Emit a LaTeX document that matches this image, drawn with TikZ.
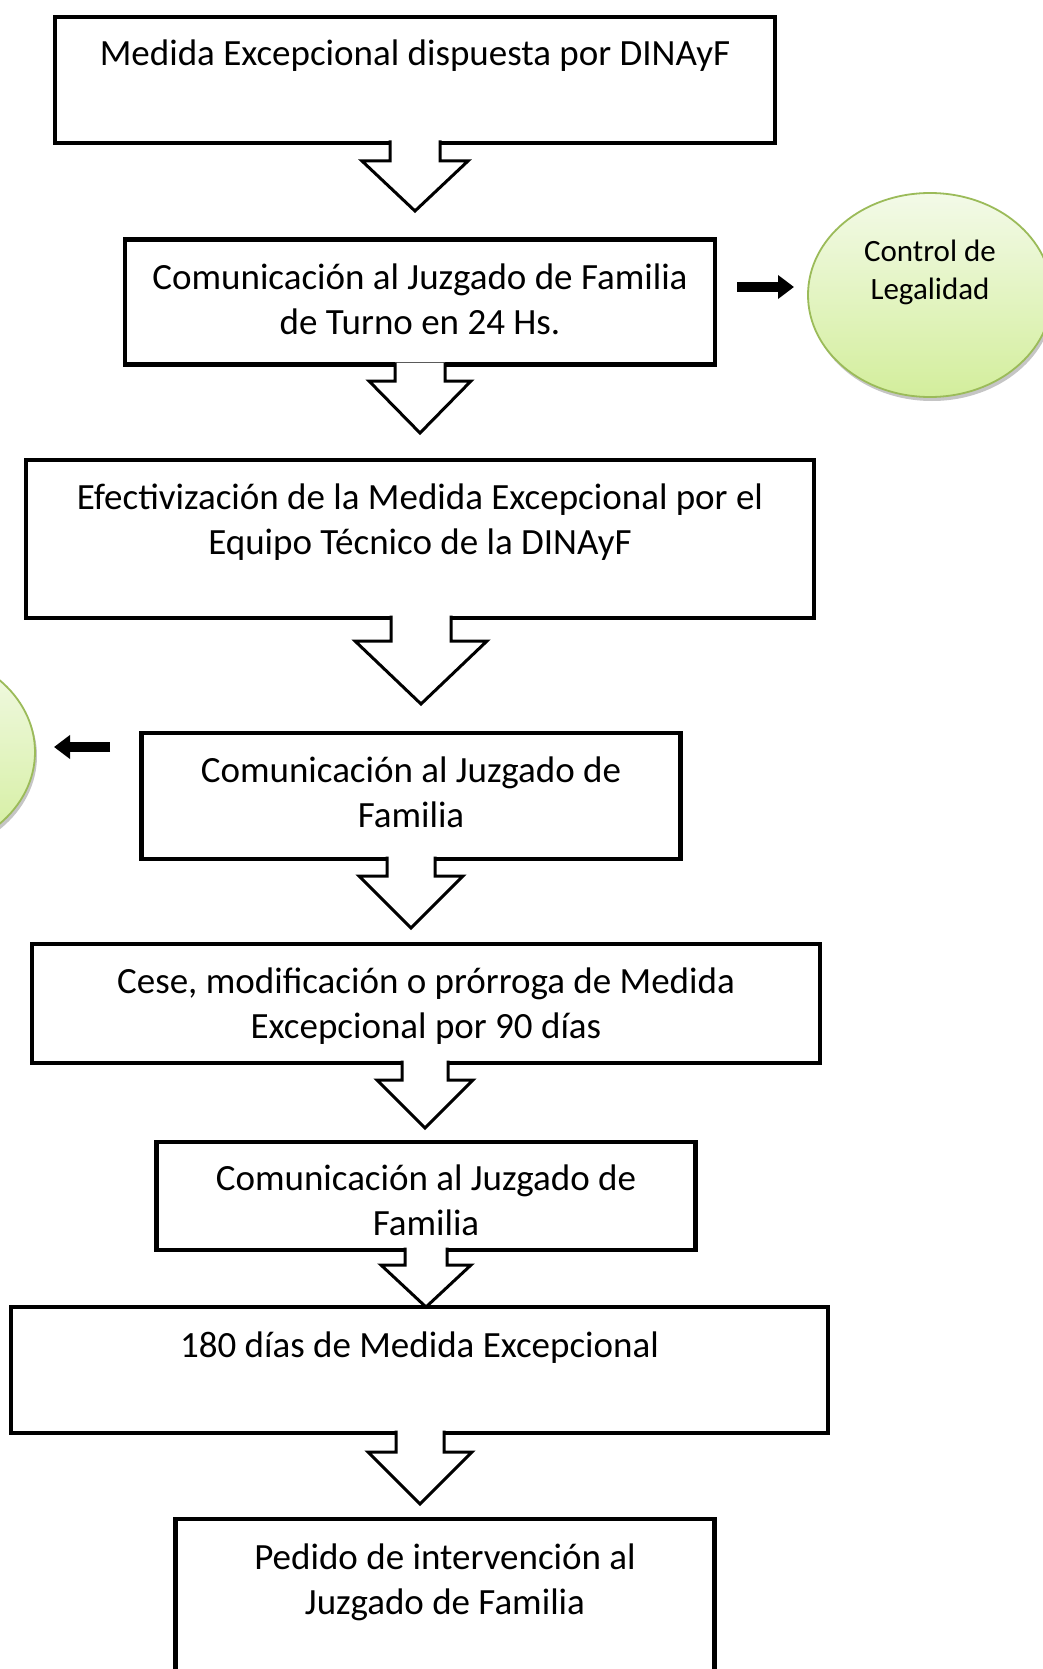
\documentclass[tikz,border=0pt]{standalone}
\usepackage{fontspec}
\setmainfont{Carlito}
\usetikzlibrary{arrows.meta,shadows,shapes.geometric}
\definecolor{elborder}{HTML}{9BBB59}
\definecolor{eltop}{HTML}{F3FAE8}
\definecolor{elbot}{HTML}{D3EE9C}
\tikzset{
  box/.style={draw=black, line width=4.5pt, fill=white, inner sep=0pt},
  txt/.style={align=center, inner sep=0pt, font=\fontsize{37}{45}\selectfont},
  eltxt/.style={align=center, inner sep=0pt, font=\fontsize{31}{38}\selectfont},
  oval/.style={ellipse, draw=elborder, line width=1.8pt, top color=eltop, bottom color=elbot,
     minimum width=244pt, minimum height=204pt, inner sep=0pt,
     drop shadow={shadow xshift=2pt, shadow yshift=-4pt, fill=black!45}},
  arrowline/.style={draw=black, line width=3pt, line join=miter},
  smallarr/.style={line width=10pt, -{Triangle[length=16pt,width=23pt]}},
}
% #1 centre x, #2 stem top, #3 head top, #4 tip, #5 stem half width, #6 head half width
\newcommand\blockarr[6]{%
  \fill[white] (#1-#5,#2) -- (#1-#5,#3) -- (#1-#6,#3) -- (#1,#4) -- (#1+#6,#3) -- (#1+#5,#3) -- (#1+#5,#2) -- cycle;
  \draw[arrowline] (#1-#5,#2) -- (#1-#5,#3) -- (#1-#6,#3) -- (#1,#4) -- (#1+#6,#3) -- (#1+#5,#3) -- (#1+#5,#2);}
\begin{document}
\begin{tikzpicture}[x=1pt,y=-1pt]
\useasboundingbox (0,0) rectangle (1042,1669);
\fill[white] (0,0) rectangle (1042,1669);
% boxes
\node[box, minimum width=720pt, minimum height=126pt] (b1) at (415,80) {};
\node[box, minimum width=590pt, minimum height=125pt] (b2) at (420,302) {};
\node[box, minimum width=788pt, minimum height=158pt] (b3) at (420,539) {};
\node[box, minimum width=539pt, minimum height=126pt] (b4) at (411,796) {};
\node[box, minimum width=788pt, minimum height=119pt] (b5) at (426,1003.5) {};
\node[box, minimum width=539pt, minimum height=108pt] (b6) at (426,1196) {};
\node[box, minimum width=817pt, minimum height=126pt] (b7) at (419.5,1370) {};
\node[box, minimum width=539pt, minimum height=200pt] (b8) at (445,1619) {};
% texts
\node[txt, anchor=north] (t1) at (415,33.5) {\strut Medida Excepcional dispuesta por DINAyF};
\node[txt, anchor=north] (t2) at (420,257.5) {\strut Comunicación al Juzgado de Familia\\de Turno en 24 Hs.};
\node[txt, anchor=north] (t3) at (420,477.5) {\strut Efectivización de la Medida Excepcional por el\\Equipo Técnico de la DINAyF};
\node[txt, anchor=north] (t4) at (411,750.5) {\strut Comunicación al Juzgado de\\Familia};
\node[txt, anchor=north] (t5) at (426,961.5) {\strut Cese, modificación o prórroga de Medida\\Excepcional por 90 días};
\node[txt, anchor=north] (t6) at (426,1158.5) {\strut Comunicación al Juzgado de\\Familia};
\node[txt, anchor=north] (t7) at (419.5,1325.5) {\strut 180 días de Medida Excepcional};
\node[txt, anchor=north] (t8) at (445,1537.5) {\strut Pedido de intervención al\\Juzgado de Familia};
% block arrows (drawn over the box borders they leave)
\blockarr{415}{140.5}{161}{211}{25}{53}
\blockarr{420}{362.5}{381}{433}{25}{51}
\blockarr{421}{615.5}{641}{704}{30}{66}
\blockarr{411}{856.5}{876}{928}{24}{52}
\blockarr{425}{1060.5}{1080}{1128}{23}{48}
\blockarr{426}{1247.5}{1265}{1307}{21}{45}
\blockarr{420}{1430.5}{1452}{1504}{24}{52}
% ovals
\node[oval] (e1) at (930,295) {};
\node[eltxt, anchor=north] (et1) at (930,235) {\strut Control de\\Legalidad};
\node[oval] (e2) at (-87,752) {};
% small arrows
\coordinate (ra1) at (737,287);
\coordinate (ra2) at (794,287);
\draw[smallarr] (ra1) -- (ra2);
\coordinate (la1) at (110,747);
\coordinate (la2) at (54,747);
\draw[smallarr] (la1) -- (la2);
\end{tikzpicture}
\end{document}
